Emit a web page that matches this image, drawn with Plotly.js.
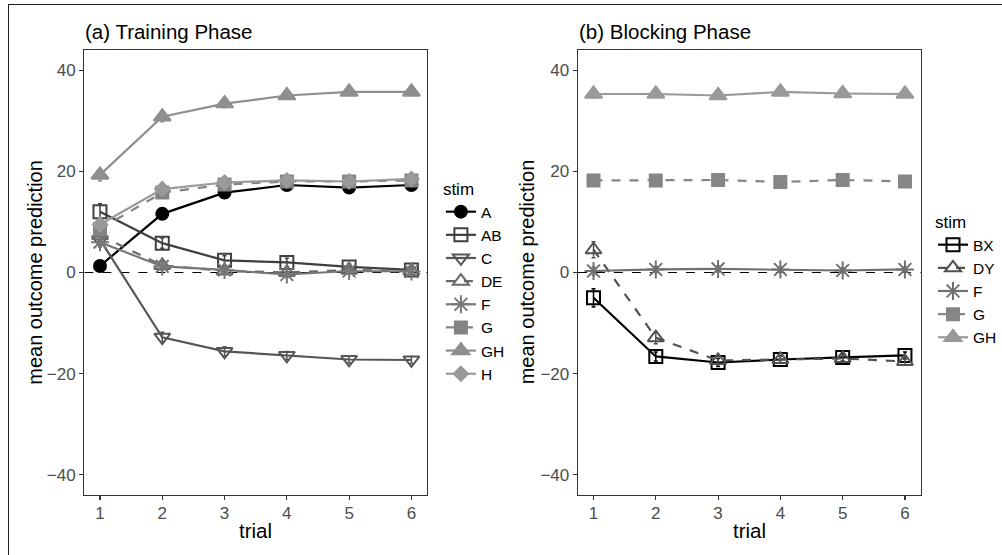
<!DOCTYPE html>
<html>
<head>
<meta charset="utf-8">
<script src="https://cdn.plot.ly/plotly-3.0.1.min.js"></script>
<style>
  html, body { margin: 0; padding: 0; background: #fff; }
  #wrap { position: relative; width: 1002px; height: 555px; overflow: hidden; }
  #chart { position: absolute; left: 0; top: 0; width: 1002px; height: 555px; }
  #frame { position: absolute; left: 8px; top: 4px; width: 1100px; height: 700px;
           border-left: 1.5px solid #222; border-top: 1.5px solid #222; pointer-events: none; }
</style>
</head>
<body>
<div id="wrap">
  <div id="chart"></div>
  <div id="frame"></div>
</div>
<script>
// Trials shown on both panels
const trials = [1, 2, 3, 4, 5, 6];

// (a) Training phase: mean outcome prediction per stimulus
const trainStims = ['A', 'AB', 'C', 'DE', 'F', 'G', 'GH', 'H'];
const trainA  = [1.3, 11.6, 15.8, 17.3, 16.8, 17.3];
const trainAB = [12.0, 5.8, 2.4, 2.0, 1.1, 0.5];
const trainC  = [6.5, -12.8, -15.6, -16.4, -17.2, -17.3];
const trainDE = [7.3, 1.4, 0.3, 0.0, 0.5, 0.3];
const trainF  = [6.0, 1.2, 0.5, -0.4, 0.3, 0.2];
const trainG  = [8.6, 15.8, 17.4, 18.0, 18.0, 18.2];
const trainGH = [19.3, 30.8, 33.4, 35.0, 35.7, 35.7];
const trainH  = [9.5, 16.5, 17.8, 18.2, 18.0, 18.5];
// standard errors
const trainA_se  = [0.8, 1.0, 0.9, 0.8, 0.8, 0.7];
const trainAB_se = [1.6, 1.0, 0.9, 0.8, 0.7, 0.6];
const trainC_se  = [1.0, 1.0, 0.9, 0.8, 0.7, 0.7];
const trainDE_se = [1.0, 0.8, 0.6, 0.6, 0.5, 0.5];
const trainF_se  = [1.0, 0.8, 0.6, 0.6, 0.5, 0.5];
const trainG_se  = [1.0, 0.9, 0.7, 0.6, 0.6, 0.5];
const trainGH_se = [1.2, 1.0, 0.8, 0.7, 0.6, 0.6];
const trainH_se  = [1.0, 0.9, 0.7, 0.6, 0.6, 0.5];

// (b) Blocking phase
const blockStims = ['BX', 'DY', 'F', 'G', 'GH'];
const blockBX = [-5.0, -16.6, -17.8, -17.2, -16.8, -16.4];
const blockDY = [4.5, -12.9, -17.4, -17.2, -17.0, -17.6];
const blockF  = [0.3, 0.6, 0.7, 0.6, 0.4, 0.6];
const blockG  = [18.2, 18.2, 18.3, 17.9, 18.3, 18.0];
const blockGH = [35.3, 35.3, 35.0, 35.7, 35.4, 35.3];
const blockBX_se = [1.8, 0.9, 0.8, 0.7, 0.7, 0.7];
const blockDY_se = [1.6, 1.2, 0.8, 0.7, 0.7, 0.7];
const blockF_se  = [0.8, 0.6, 0.6, 0.5, 0.5, 0.5];
const blockG_se  = [0.8, 0.6, 0.6, 0.5, 0.5, 0.5];
const blockGH_se = [0.8, 0.6, 0.6, 0.5, 0.5, 0.5];

const yTicks = [-40, -20, 0, 20, 40];

// grey palettes (black to 60% grey)
const trainColors = ['#000000', '#3f3f3f', '#575757', '#686868', '#777777', '#838383', '#8f8f8f', '#999999'];
const blockColors = ['#000000', '#525252', '#707070', '#868686', '#999999'];

function series(name, y, se, color, symbol, size, dash, xa, ya, legend) {
  return {
    type: 'scatter', mode: 'lines+markers', name: name,
    x: trials, y: y,
    xaxis: xa, yaxis: ya, legend: legend,
    line: { color: color, width: 2.2, dash: dash },
    marker: { color: color, symbol: symbol, size: size, line: { color: color, width: 2 } },
    error_y: { type: 'data', array: se, visible: true, color: color, thickness: 1.5, width: 2 }
  };
}

const data = [
  series('A',  trainA,  trainA_se,  trainColors[0], 'circle', 12, 'solid', 'x', 'y', 'legend'),
  series('AB', trainAB, trainAB_se, trainColors[1], 'square-open', 13, 'solid', 'x', 'y', 'legend'),
  series('C',  trainC,  trainC_se,  trainColors[2], 'triangle-down-open', 14, 'solid', 'x', 'y', 'legend'),
  series('DE', trainDE, trainDE_se, trainColors[3], 'triangle-up-open', 14, 'dash', 'x', 'y', 'legend'),
  series('F',  trainF,  trainF_se,  trainColors[4], 'asterisk-open', 15, 'solid', 'x', 'y', 'legend'),
  series('G',  trainG,  trainG_se,  trainColors[5], 'square', 12, 'dash', 'x', 'y', 'legend'),
  series('GH', trainGH, trainGH_se, trainColors[6], 'triangle-up', 15, 'solid', 'x', 'y', 'legend'),
  series('H',  trainH,  trainH_se,  trainColors[7], 'diamond', 11, 'solid', 'x', 'y', 'legend'),

  series('BX', blockBX, blockBX_se, blockColors[0], 'square-open', 13, 'solid', 'x2', 'y2', 'legend2'),
  series('DY', blockDY, blockDY_se, blockColors[1], 'triangle-up-open', 14, 'dash', 'x2', 'y2', 'legend2'),
  series('F',  blockF,  blockF_se,  blockColors[2], 'asterisk-open', 15, 'solid', 'x2', 'y2', 'legend2'),
  series('G',  blockG,  blockG_se,  blockColors[3], 'square', 12, 'dash', 'x2', 'y2', 'legend2'),
  series('GH', blockGH, blockGH_se, blockColors[4], 'triangle-up', 15, 'solid', 'x2', 'y2', 'legend2')
];

const W = 1002, H = 555;
const px = v => v / W;
const py = v => 1 - v / H;

const FONT = 'Liberation Sans, Arial, Helvetica, sans-serif';
const TICK_FONT = { family: FONT, size: 17, color: '#4d4d4d' };

function xAxis(d0, d1, anchor) {
  return {
    domain: [px(d0), px(d1)], anchor: anchor,
    range: [0.75, 6.25], tickvals: trials, ticktext: trials.map(String),
    showline: true, mirror: true, linecolor: '#333', linewidth: 1.3,
    ticks: 'outside', ticklen: 4, tickcolor: '#333', tickwidth: 1.1,
    tickfont: TICK_FONT, ticklabelstandoff: -2,
    showgrid: false, zeroline: false, fixedrange: true
  };
}
function yAxis(anchor) {
  return {
    domain: [py(495), py(50)], anchor: anchor,
    range: [-44, 44], tickvals: yTicks,
    showline: true, mirror: true, linecolor: '#333', linewidth: 1.3,
    ticks: 'outside', ticklen: 4, tickcolor: '#333', tickwidth: 1.1,
    tickfont: TICK_FONT,
    showgrid: false, zeroline: false, fixedrange: true
  };
}

function legendBox(xLeft, yTop) {
  return {
    x: px(xLeft), y: py(yTop), xanchor: 'left', yanchor: 'top',
    title: { text: 'stim', font: { family: FONT, size: 17, color: '#000' } },
    font: { family: FONT, size: 15.5, color: '#000' },
    bgcolor: 'rgba(0,0,0,0)', tracegroupgap: 0, itemwidth: 30
  };
}

function note(text, x, y, size, opts) {
  return Object.assign({
    text: text, xref: 'paper', yref: 'paper', x: px(x), y: py(y),
    showarrow: false, font: { family: FONT, size: size, color: '#000' }
  }, opts || {});
}

const layout = {
  width: W, height: H,
  margin: { l: 0, r: 0, t: 0, b: 0 },
  paper_bgcolor: '#fff', plot_bgcolor: '#fff',
  showlegend: true,
  xaxis: xAxis(85, 430, 'y'),
  yaxis: yAxis('x'),
  xaxis2: xAxis(582, 927, 'y2'),
  yaxis2: yAxis('x2'),
  legend: legendBox(444, 173),
  legend2: legendBox(940, 206),
  shapes: [
    { type: 'line', xref: 'x domain', yref: 'y', x0: 0, x1: 1, y0: 0, y1: 0,
      line: { color: '#000', width: 1, dash: 'dash' }, layer: 'below' },
    { type: 'line', xref: 'x2 domain', yref: 'y2', x0: 0, x1: 1, y0: 0, y1: 0,
      line: { color: '#000', width: 1, dash: 'dash' }, layer: 'below' }
  ],
  annotations: [
    note('(a) Training Phase', 84, 32, 20.5, { xanchor: 'left', yanchor: 'middle' }),
    note('(b) Blocking Phase', 581, 32, 20.5, { xanchor: 'left', yanchor: 'middle' }),
    note('trial', 257.5, 530, 20.5, { xanchor: 'center', yanchor: 'middle' }),
    note('trial', 754.5, 530, 20.5, { xanchor: 'center', yanchor: 'middle' }),
    note('mean outcome prediction', 35, 272, 20, { xanchor: 'center', yanchor: 'middle', textangle: -90 }),
    note('mean outcome prediction', 531, 272, 20, { xanchor: 'center', yanchor: 'middle', textangle: -90 })
  ]
};

Plotly.newPlot('chart', data, layout, { displayModeBar: false, staticPlot: true });
</script>
</body>
</html>
